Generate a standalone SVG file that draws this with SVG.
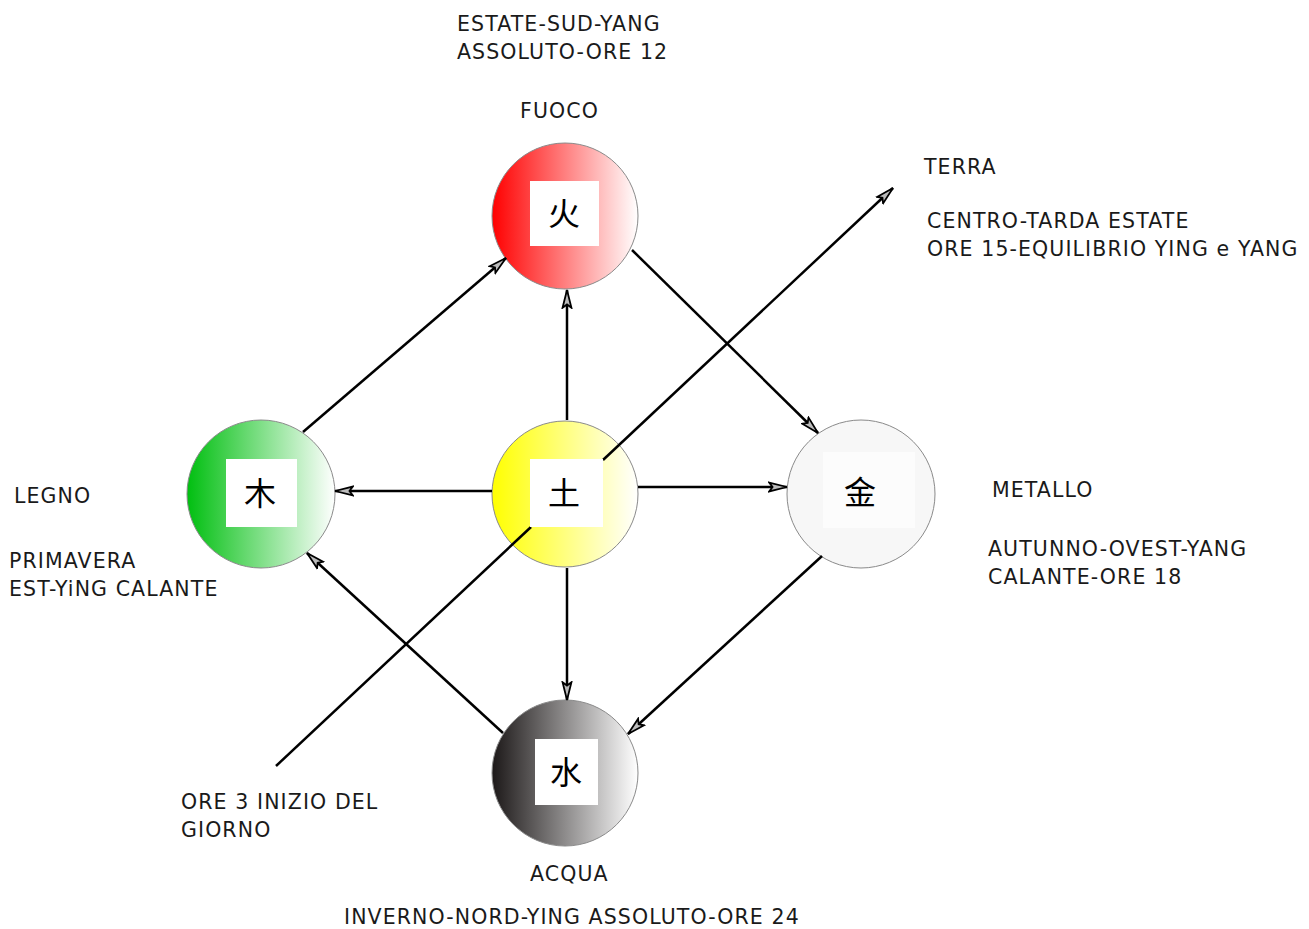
<svg xmlns="http://www.w3.org/2000/svg" width="1309" height="929" viewBox="0 0 1309 929">
<style>
.t{font-family:"DejaVu Sans","Noto Sans",sans-serif;font-size:20.5px;letter-spacing:1.1px;fill:#1a1a1a}
.c{font-family:"Noto Sans CJK SC","Noto Sans CJK JP",sans-serif;font-size:32px;fill:#000;text-anchor:middle}
.circ{stroke:#8a8a8a;stroke-width:1}
.sq{fill:#fff}
.ln{stroke:#000;stroke-width:2.5;fill:none}
.ar{marker-end:url(#ah)}
</style>
<defs>
<marker id="ah" markerUnits="userSpaceOnUse" markerWidth="20" markerHeight="12" refX="17" refY="5" orient="auto" viewBox="0 0 18 10">
<path d="M1,1 L17,5 L1,9 L4,5 z" fill="#bbb" stroke="#000" stroke-width="1.6" stroke-linejoin="miter"/>
</marker>
<linearGradient id="gF" x1="0" y1="0" x2="1" y2="0"><stop offset="0" stop-color="#ff0000"/><stop offset="1" stop-color="#ffffff"/></linearGradient>
<linearGradient id="gW" x1="0" y1="0" x2="1" y2="0"><stop offset="0" stop-color="#00bf10"/><stop offset="1" stop-color="#ffffff"/></linearGradient>
<linearGradient id="gE" x1="0" y1="0" x2="1" y2="0"><stop offset="0" stop-color="#ffff00"/><stop offset="1" stop-color="#ffffff"/></linearGradient>
<linearGradient id="gA" x1="0" y1="0" x2="1" y2="0"><stop offset="0" stop-color="#1c1818"/><stop offset="1" stop-color="#ffffff"/></linearGradient>
</defs>
<rect width="1309" height="929" fill="#fff"/>

<g id="fire">
<circle class="circ" cx="565" cy="216" r="73" fill="url(#gF)"/>
<rect class="sq" x="530" y="181" width="69" height="65"/>
<text class="c" x="564" y="225">火</text>
</g>
<g id="wood">
<circle class="circ" cx="261" cy="494" r="74" fill="url(#gW)"/>
<rect class="sq" x="226" y="459" width="71" height="68"/>
<text class="c" x="260" y="505">木</text>
</g>
<g id="earth">
<circle class="circ" cx="565" cy="494" r="73" fill="url(#gE)"/>
</g>
<g id="metal">
<circle class="circ" cx="861" cy="494" r="74" fill="#f7f7f7"/>
<rect x="823" y="452" width="92" height="76" fill="#fcfcfc"/>
<text class="c" x="860" y="504">金</text>
</g>
<g id="water">
<circle class="circ" cx="565" cy="773" r="73" fill="url(#gA)"/>
<rect class="sq" x="535" y="739" width="63" height="66"/>
<text class="c" x="566" y="784">水</text>
</g>

<g id="connectors">
<line class="ln ar" x1="303" y1="432" x2="506" y2="258"/>
<line class="ln ar" x1="632" y1="250" x2="818" y2="433"/>
<line class="ln ar" x1="822" y1="556" x2="628" y2="734"/>
<line class="ln ar" x1="503" y1="733" x2="307" y2="553"/>
<line class="ln ar" x1="567" y1="420" x2="567" y2="290"/>
<line class="ln ar" x1="492" y1="491" x2="335" y2="491"/>
<line class="ln ar" x1="638" y1="487" x2="787" y2="487"/>
<line class="ln ar" x1="567" y1="568" x2="567" y2="700"/>
<line class="ln" x1="276" y1="766" x2="531" y2="527"/>
<line class="ln ar" x1="603" y1="460" x2="893" y2="188"/>
</g>

<g id="earth-label">
<rect class="sq" x="530" y="459" width="73" height="68"/>
<text class="c" x="564" y="505">土</text>
</g>

<g id="labels">
<text class="t" x="457" y="31">ESTATE-SUD-YANG</text>
<text class="t" x="457" y="59">ASSOLUTO-ORE 12</text>
<text class="t" x="520" y="118">FUOCO</text>
<text class="t" x="924" y="174">TERRA</text>
<text class="t" x="927" y="228">CENTRO-TARDA ESTATE</text>
<text class="t" x="927" y="256">ORE 15-EQUILIBRIO YING e YANG</text>
<text class="t" x="14" y="503">LEGNO</text>
<text class="t" x="9" y="568">PRIMAVERA</text>
<text class="t" x="9" y="596">EST-YiNG CALANTE</text>
<text class="t" x="992" y="497">METALLO</text>
<text class="t" x="988" y="556">AUTUNNO-OVEST-YANG</text>
<text class="t" x="988" y="584">CALANTE-ORE 18</text>
<text class="t" x="181" y="809">ORE 3 INIZIO DEL</text>
<text class="t" x="181" y="837">GIORNO</text>
<text class="t" x="530" y="881">ACQUA</text>
<text class="t" x="344" y="924">INVERNO-NORD-YING ASSOLUTO-ORE 24</text>
</g>
</svg>
